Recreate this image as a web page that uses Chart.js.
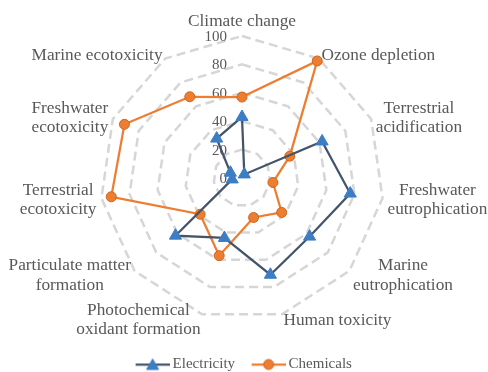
<!DOCTYPE html>
<html>
<head>
<meta charset="utf-8">
<script src="https://cdn.jsdelivr.net/npm/chart.js@4.4.1/dist/chart.umd.min.js"></script>
<style>
  html, body { margin: 0; padding: 0; background: #fff; }
  #wrap { width: 488px; height: 372px; }
</style>
</head>
<body>
<div id="wrap"><canvas id="radarChart"></canvas></div>
<script>
const axisLabels = [
    ['Climate change'],
    ['Ozone depletion'],
    ['Terrestrial', 'acidification'],
    ['Freshwater', 'eutrophication'],
    ['Marine', 'eutrophication'],
    ['Human toxicity'],
    ['Photochemical', 'oxidant formation'],
    ['Particulate matter', 'formation'],
    ['Terrestrial', 'ecotoxicity'],
    ['Freshwater', 'ecotoxicity'],
    ['Marine ecotoxicity']
];
const electricity = [43, 3, 62, 77, 63, 71, 44, 62, 7, 9, 33];
const chemicals = [57, 98, 37, 22, 37, 29, 57, 39, 93, 91, 68];
const tickValues = [0, 20, 40, 60, 80, 100];

const serif = '"Liberation Serif", "Times New Roman", serif';
const textGray = '#595959';

Chart.defaults.font.family = serif;
Chart.defaults.color = textGray;

// small line + marker images for the legend (left 8px left empty so the
// glyph sits a little right of the legend box centre, like the original)
function legendIcon(lineColor, style, fill, stroke, radius) {
    const c = document.createElement('canvas');
    c.width = 42;
    c.height = 16;
    const g = c.getContext('2d');
    g.strokeStyle = lineColor;
    g.lineWidth = 2.25;
    g.beginPath();
    g.moveTo(8, 8);
    g.lineTo(42, 8);
    g.stroke();
    g.fillStyle = fill;
    g.strokeStyle = stroke;
    g.lineWidth = 1;
    Chart.helpers.drawPoint(g, { pointStyle: style, radius: radius, borderWidth: 1 }, 25, style === 'triangle' ? 9.5 : 8);
    return c;
}

// axis names and tick numbers, placed from the scale's own geometry
const outerText = {
    id: 'outerText',
    beforeDatasetsDraw(chart) {
        const scale = chart.scales.r;
        const ctx = chart.ctx;
        ctx.save();
        ctx.fillStyle = textGray;
        ctx.textBaseline = 'middle';
        ctx.textAlign = 'center';
        ctx.font = '17.3px ' + serif;
        const lineH = 19.5;
        axisLabels.forEach((lines, i) => {
            const p = scale.getPointPosition(i, scale.drawingArea + 5);
            const blockW = Math.max(...lines.map(l => ctx.measureText(l).width));
            const dx = p.x - scale.xCenter;
            let cx = p.x;
            let cy = p.y + 1;
            if (Math.abs(dx) < 2) {
                cy = p.y - 10;
            } else if (dx > 0) {
                cx = p.x + blockW / 2;
            } else {
                cx = p.x - blockW / 2;
            }
            lines.forEach((l, k) => {
                ctx.fillText(l, cx, cy + (k - (lines.length - 1) / 2) * lineH);
            });
        });

        ctx.font = '15px ' + serif;
        ctx.textAlign = 'right';
        tickValues.forEach(v => {
            const y = scale.yCenter - scale.getDistanceFromCenterForValue(v);
            ctx.fillText(String(v), scale.xCenter - 15, y + 1);
        });
        ctx.restore();
    }
};

const icons = [
    legendIcon('#44546A', 'triangle', '#3C7DC4', '#3C7DC4', 7),
    legendIcon('#ED7D31', 'circle', '#ED7D31', '#D0651C', 5)
];

new Chart(document.getElementById('radarChart'), {
    type: 'radar',
    data: {
        labels: axisLabels,
        datasets: [{
            label: 'Electricity',
            data: electricity,
            borderColor: '#44546A',
            borderWidth: 2.25,
            pointStyle: 'triangle',
            pointRadius: 7,
            pointBackgroundColor: '#3C7DC4',
            pointBorderColor: '#3C7DC4',
            pointBorderWidth: 1,
            fill: false
        }, {
            label: 'Chemicals',
            data: chemicals,
            borderColor: '#ED7D31',
            borderWidth: 2.25,
            pointStyle: 'circle',
            pointRadius: 5,
            pointBackgroundColor: '#ED7D31',
            pointBorderColor: '#D0651C',
            pointBorderWidth: 1,
            fill: false
        }]
    },
    options: {
        responsive: true,
        maintainAspectRatio: false,
        animation: false,
        layout: {
            padding: { top: 12, left: 100, right: 104, bottom: 0 }
        },
        scales: {
            r: {
                min: 0,
                max: 100,
                ticks: { stepSize: 20, display: false },
                angleLines: { display: false },
                pointLabels: { display: false },
                grid: { color: '#D6D6D6', lineWidth: 2.5 },
                border: { dash: [9, 5] }
            }
        },
        plugins: {
            tooltip: { enabled: false },
            legend: {
                position: 'bottom',
                maxHeight: 28,
                labels: {
                    usePointStyle: true,
                    pointStyleWidth: 33,
                    padding: 13,
                    color: textGray,
                    font: { size: 15, family: serif },
                    generateLabels(chart) {
                        return chart.data.datasets.map((ds, i) => ({
                            text: ds.label,
                            pointStyle: icons[i],
                            fillStyle: ds.borderColor,
                            strokeStyle: ds.borderColor,
                            lineWidth: 0,
                            hidden: false,
                            datasetIndex: i,
                            fontColor: textGray
                        }));
                    }
                }
            }
        }
    },
    plugins: [outerText]
});
</script>
</body>
</html>
